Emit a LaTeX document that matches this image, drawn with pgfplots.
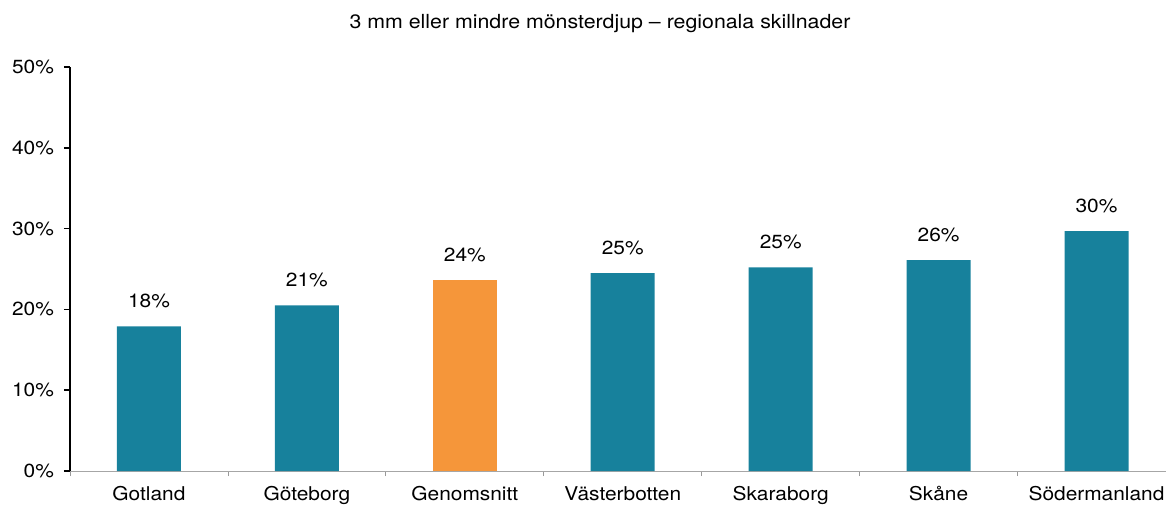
\documentclass[border=0pt]{standalone}
\usepackage{fontspec}
\setmainfont{TeX Gyre Heros}[FakeStretch=1.1]
\usepackage{pgfplots}
\pgfplotsset{compat=1.18}
\definecolor{teal}{HTML}{17819C}
\definecolor{orng}{HTML}{F5963A}
\begin{document}
\begin{tikzpicture}[x=1pt,y=1pt]
\path[use as bounding box] (-35pt,-16.5pt) rectangle (548pt,235.5pt);
\begin{axis}[
  at={(0,0)}, anchor=south west,
  scale only axis,
  width=548pt, height=202pt,
  xmin=-0.5, xmax=6.44,
  ymin=0, ymax=50,
  axis lines=left,
  x axis line style={-, draw=gray!70},
  y axis line style={-, draw=black, line width=0.8pt},
  ytick={0,10,...,50},
  yticklabel={\pgfmathprintnumber{\tick}\%},
  yticklabel style={font=\fontsize{9.5}{11}\selectfont, xshift=-1.5pt},
  ytick style={draw=black, line width=0.8pt},
  tick align=outside,
  major tick length=3pt,
  xtick={0,...,6},
  xticklabels={Gotland,Göteborg,Genomsnitt,Västerbotten,Skaraborg,Skåne,Södermanland},
  xticklabel style={font=\fontsize{9.5}{11}\selectfont, text height=8pt, text depth=2.5pt, yshift=-0.3pt},
  x tick style={draw=none},
  minor xtick={-0.5,0.5,...,5.5},
  minor x tick style={draw=gray!80, line width=0.4pt},
  minor tick length=2.5pt,
  /pgf/number format/assume math mode=true,
  ybar, bar width=32pt, bar shift=0pt,
  nodes near coords={\pgfmathprintnumber[fixed,precision=0]{\pgfplotspointmeta}\%},
  nodes near coords style={font=\fontsize{9.5}{11}\selectfont, text=black, yshift=5.5pt},
  clip=false,
]
\addplot[fill=teal, draw=none] coordinates {(0,17.9) (1,20.5) (3,24.5) (4,25.2) (5,26.1) (6,29.7)};
\addplot[fill=orng, draw=none] coordinates {(2,23.6)};
\end{axis}
\node[font=\fontsize{9.7}{11}\selectfont] at (265pt,223.8pt) {3 mm eller mindre mönsterdjup – regionala skillnader};
\end{tikzpicture}
\end{document}
